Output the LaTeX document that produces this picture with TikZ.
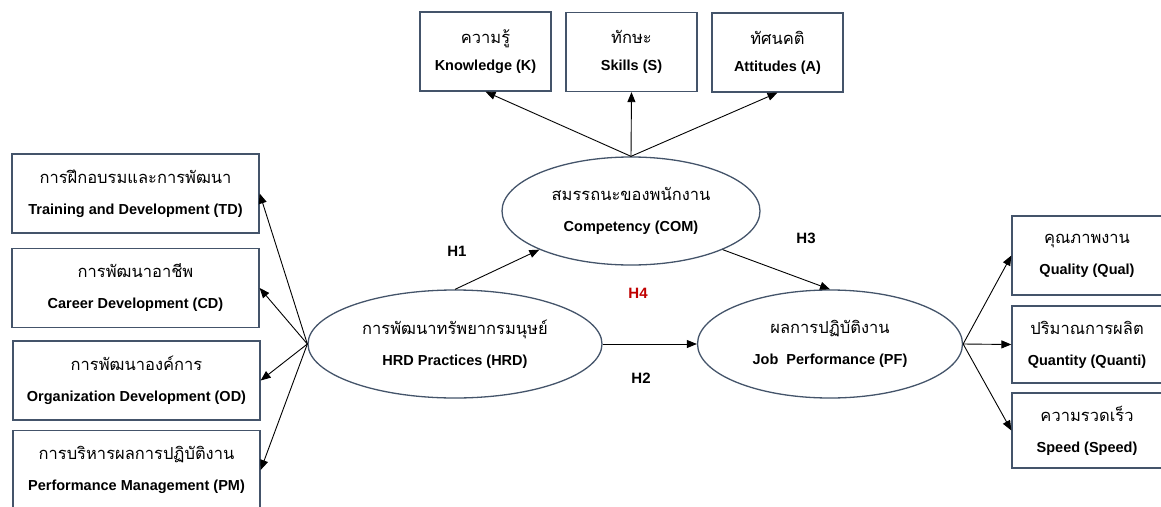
\documentclass[tikz,border=0pt]{standalone}
\usepackage{fontspec}
\setmainfont{Liberation Sans}
\newfontfamily\thaifont[Script=Thai]{Loma}
\usetikzlibrary{shapes.geometric,arrows.meta}

\definecolor{framecol}{HTML}{44546A}
\definecolor{hypred}{HTML}{C00000}

\newcommand{\thtxt}[1]{{\thaifont\fontsize{16.5}{20}\selectfont #1}}
\newcommand{\entxt}[1]{{\bfseries #1}}

\tikzset{%
        factor/.style={
                rectangle,
                draw=framecol,
                line width=1.3pt,
                minimum height=79pt,
                inner sep=0pt
            },
        latent/.style={
                ellipse,
                draw=framecol,
                line width=1.3pt,
                minimum height=108pt,
                inner sep=0pt
            },
        hyp/.style={
                font=\fontsize{15}{18}\selectfont\bfseries
            }
    }

\begin{document}
\begin{tikzpicture}[x=1pt, y=-1pt, line width=0.9pt, >={Triangle[length=10pt,width=8pt]},
    every node/.style={align=center, font=\fontsize{14.5}{31}\selectfont}]

    \useasboundingbox (0,0) rectangle (1161,506);
    \clip (0,0) rectangle (1161,506);

    % latent variables:
        \node [latent, minimum width=294pt]  (hrd) at (455,344) {\thtxt{การพัฒนาทรัพยากรมนุษย์}\\\entxt{HRD Practices (HRD)}};
        \node [latent, minimum width=258pt]  (com) at (631,211) {\thtxt{สมรรถนะของพนักงาน}\\\entxt{Competency (COM)}};
        \node [latent, minimum width=265pt]  (pf) at (830,344) {\thtxt{ผลการปฏิบัติงาน}\\\entxt{Job\ \ Performance (PF)}};

    % indicators of competency:
        \node [factor, minimum width=131pt, font=\fontsize{14.5}{27}\selectfont]  (k) at (485.5,51.5) {\thtxt{ความรู้}\\\entxt{Knowledge (K)}};
        \node [factor, minimum width=131pt, font=\fontsize{14.5}{27}\selectfont]  (s) at (631.5,52) {\thtxt{ทักษะ}\\\entxt{Skills (S)}};
        \node [factor, minimum width=131pt, font=\fontsize{14.5}{27}\selectfont]  (a) at (777.5,52.5) {\thtxt{ทัศนคติ}\\\entxt{Attitudes (A)}};

    % indicators of hrd practices:
        \node [factor, minimum width=247pt]  (td) at (135.5,193.5) {\thtxt{การฝึกอบรมและการพัฒนา}\\\entxt{Training and Development (TD)}};
        \node [factor, minimum width=247pt]  (cd) at (135.5,288) {\thtxt{การพัฒนาอาชีพ}\\\entxt{Career Development (CD)}};
        \node [factor, minimum width=247pt]  (od) at (136.5,380.5) {\thtxt{การพัฒนาองค์การ}\\\entxt{Organization Development (OD)}};
        \node [factor, minimum width=247pt]  (pm) at (136.5,470) {\thtxt{การบริหารผลการปฏิบัติงาน}\\\entxt{Performance Management (PM)}};

    % indicators of job performance:
        \node [factor, minimum width=150pt]  (qual) at (1087,255.5) {\thtxt{คุณภาพงาน}\\\entxt{Quality (Qual)}};
        \node [factor, minimum width=150pt, minimum height=77pt]  (quanti) at (1087,344.5) {\thtxt{ปริมาณการผลิต}\\\entxt{Quantity (Quanti)}};
        \node [factor, minimum width=150pt, minimum height=75pt]  (speed) at (1087,430.5) {\thtxt{ความรวดเร็ว}\\\entxt{Speed (Speed)}};

    % hypotheses:
        \node [hyp]  (h1) at (457,251) {H1};
        \node [hyp]  (h2) at (641,378) {H2};
        \node [hyp]  (h3) at (806,238) {H3};
        \node [hyp, text=hypred]  (h4) at (638,293) {H4};

        \draw[->] (hrd.north) -- (com.south west);
        \draw[->] (hrd.east) -- (pf.west);
        \draw[->] (com.south east) -- (pf.north);

        \draw[->] (com.north) -- (k.south);
        \draw[->] (com.north) -- (s.south);
        \draw[->] (com.north) -- (a.south);

        \draw[->] (hrd.west) -- (td.east);
        \draw[->] (hrd.west) -- (cd.east);
        \draw[->] (hrd.west) -- (od.east);
        \draw[->] (hrd.west) -- (pm.east);

        \draw[->] (pf.east) -- (qual.west);
        \draw[->] (pf.east) -- (quanti.west);
        \draw[->] (pf.east) -- (speed.west);
\end{tikzpicture}
\end{document}
